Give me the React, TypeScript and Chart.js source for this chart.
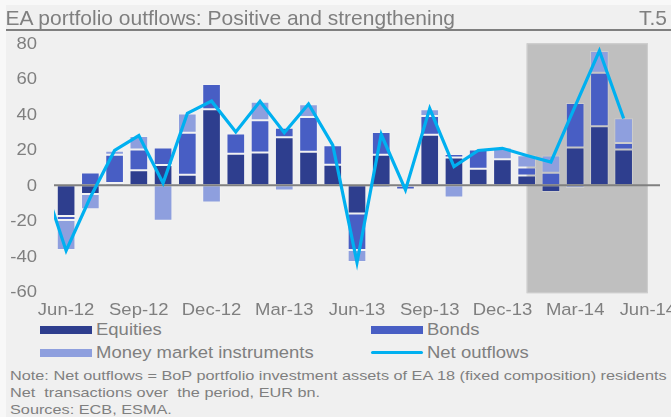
import React, { useEffect, useRef } from 'react';
import { Chart, registerables } from 'chart.js';

Chart.register(...registerables);

// ---------- data ----------
const MONTHS = [
  'Jun-12', 'Jul-12', 'Aug-12', 'Sep-12', 'Oct-12', 'Nov-12', 'Dec-12',
  'Jan-13', 'Feb-13', 'Mar-13', 'Apr-13', 'May-13', 'Jun-13', 'Jul-13',
  'Aug-13', 'Sep-13', 'Oct-13', 'Nov-13', 'Dec-13', 'Jan-14', 'Feb-14',
  'Mar-14', 'Apr-14', 'May-14', 'Jun-14',
];
const EQUITIES = [-17.4, -5.0, 1.2, 8.4, 11.4, 5.9, 42.8, 17.8, 18.5, 27.0, 18.9, 11.6, -15.9, 17.2, -0.3, 28.4, 15.7, 9.3, 14.6, 5.5, -3.8, 21.3, 33.2, 20.2];
const BONDS = [-2.2, 7.2, 16.0, 11.8, 9.9, 23.7, 14.2, 11.4, 18.2, 5.4, 19.6, 11.0, -20.6, 12.8, -2.1, 10.6, 1.9, 10.9, -0.8, 4.5, 7.0, 25.0, 30.2, 3.6];
const MONEY_MARKET = [-16.9, -8.6, 2.2, 7.5, -20.0, 10.9, -9.7, 0.8, 10.4, -2.9, 7.1, 0.0, -6.8, -1.4, 0.0, 3.9, -6.9, -0.8, 6.7, 6.9, 9.8, -1.6, 12.2, 14.0];
const NET_OUTFLOWS = [-36.9, -6.8, 19.6, 28.0, 1.2, 40.5, 47.4, 30.0, 47.3, 29.6, 45.8, 22.6, -43.5, 28.6, -2.6, 43.2, 10.5, 19.6, 20.8, 16.8, 13.1, 44.6, 75.8, 37.6];
const NET_MAY_12 = 4.5; // preceding month, only partly visible at the left edge
const Y_TICKS = [-60, -40, -20, 0, 20, 40, 60, 80];
const SHADE_FROM = 'Jan-14';
const SHADE_TO = 'Jun-14';

// ---------- style ----------
const BG = '#F0F0F0';
const GREY = '#7F7F7F';
const C_EQ = '#2E3E8E';
const C_BO = '#485EC4';
const C_MM = '#8E9FDE';
const C_NET = '#00B0F0';
const C_SHADE = '#BFBFBF';
const FONT_FAMILY = '"Liberation Sans", Arial, sans-serif';
const TICK_SIZE = 16.3;
const TICK_SX = 1.135;

const shadePlugin = {
  id: 'shade',
  beforeDraw(chart: any) {
    const { ctx, chartArea } = chart;
    const x2 = chart.scales.x2;
    const y = chart.scales.y;
    const a = x2.getPixelForValue(MONTHS.indexOf(SHADE_FROM));
    const b = x2.getPixelForValue(MONTHS.indexOf(SHADE_TO));
    const top = chartArea.top;
    const bottom = y.getPixelForValue(-60) + 1.5;
    ctx.save();
    ctx.fillStyle = C_SHADE;
    ctx.fillRect(a, top, b - a, bottom - top);
    ctx.strokeStyle = '#CFCFCF';
    ctx.lineWidth = 1;
    ctx.strokeRect(a + 0.5, top + 0.5, b - a - 1, bottom - top - 1);
    ctx.restore();
  },
  beforeDatasetDraw(chart: any, args: any) {
    if (args.meta.type !== 'line') return;
    const { ctx, chartArea } = chart;
    const y0 = chart.scales.y.getPixelForValue(0);
    ctx.save();
    ctx.strokeStyle = '#808080';
    ctx.lineWidth = 2;
    ctx.beginPath();
    ctx.moveTo(chartArea.left, y0);
    ctx.lineTo(chartArea.right, y0);
    ctx.stroke();
    ctx.restore();
  },
  afterDraw(chart: any) {
    const { ctx, chartArea } = chart;
    const x2 = chart.scales.x2;
    const y = chart.scales.y;
    ctx.save();
    ctx.font = `${TICK_SIZE}px ${FONT_FAMILY}`;
    ctx.fillStyle = GREY;
    ctx.textBaseline = 'alphabetic';
    ctx.textAlign = 'right';
    for (const v of Y_TICKS) {
      const py = y.getPixelForValue(v);
      ctx.save();
      ctx.translate(chartArea.left - 17, py + 5.4);
      ctx.scale(TICK_SX, 1);
      ctx.fillText(String(v), 0, 0);
      ctx.restore();
    }
    ctx.textAlign = 'center';
    MONTHS.forEach((m, i) => {
      if (i % 3 !== 0) return;
      const px = x2.getPixelForValue(i);
      ctx.save();
      ctx.translate(px, chartArea.bottom + 23.3);
      ctx.scale(TICK_SX, 1);
      ctx.fillText(m, 0, 0);
      ctx.restore();
    });
    ctx.restore();
  },
};

function Txt(props: { left?: number; right?: number; baseline: number; size: number; sx?: number; children: any }) {
  const { left, right, baseline, size, sx = 1, children } = props;
  const top = baseline - 0.8465 * size;
  const style: any = {
    position: 'absolute',
    top,
    fontSize: size,
    lineHeight: `${size}px`,
    whiteSpace: 'pre',
    color: GREY,
    fontFamily: FONT_FAMILY,
    transform: `scaleX(${sx})`,
    transformOrigin: right !== undefined ? '100% 0' : '0 0',
  };
  if (left !== undefined) style.left = left;
  if (right !== undefined) style.right = right;
  return <div style={style}>{children}</div>;
}

function Swatch(props: { left: number; top: number; width: number; height: number; color: string; radius?: number }) {
  const { left, top, width, height, color, radius = 0 } = props;
  return <div style={{ position: 'absolute', left, top, width, height, background: color, borderRadius: radius }} />;
}

export default function App() {
  const ref = useRef<HTMLCanvasElement>(null);

  useEffect(() => {
    const barDs = (label: string, data: number[], color: string) => ({
      type: 'bar' as const,
      label,
      data,
      backgroundColor: color,
      borderColor: 'rgba(255,255,255,0.22)',
      borderWidth: 1,
      borderSkipped: false,
      stack: 'bars',
      grouped: false,
      xAxisID: 'x',
      yAxisID: 'y',
      order: 1,
      barPercentage: 0.77,
      categoryPercentage: 1,
    });
    const lineData = [{ x: -1, y: NET_MAY_12 }, ...NET_OUTFLOWS.map((v, i) => ({ x: i, y: v }))];
    const chart = new Chart(ref.current as HTMLCanvasElement, {
      data: {
        labels: MONTHS,
        datasets: [
          barDs('Equities', EQUITIES, C_EQ),
          barDs('Bonds', BONDS, C_BO),
          barDs('Money market instruments', MONEY_MARKET, C_MM),
          {
            type: 'line' as const,
            label: 'Net outflows',
            data: lineData as any,
            borderColor: C_NET,
            backgroundColor: C_NET,
            borderWidth: 3.2,
            borderJoinStyle: 'miter',
            pointRadius: 0,
            tension: 0,
            fill: false,
            stack: 'line',
            xAxisID: 'x2',
            yAxisID: 'y',
            order: 0,
            clip: { left: 0, right: 0, top: 6, bottom: 6 } as any,
          } as any,
        ],
      },
      options: {
        responsive: false,
        animation: false,
        devicePixelRatio: 1,
        events: [],
        layout: { padding: { left: 54, right: 11, top: 43.3, bottom: 320 - 291.7 } },
        plugins: { legend: { display: false }, tooltip: { enabled: false } },
        scales: {
          x: { type: 'category', display: false, offset: true },
          x2: { type: 'linear', display: false, min: -0.5, max: MONTHS.length - 0.5 },
          y: { type: 'linear', display: false, stacked: true, min: -60, max: 80 },
        },
      } as any,
      plugins: [shadePlugin],
    });
    return () => chart.destroy();
  }, []);

  return (
    <div style={{ position: 'absolute', left: 0, top: 0, width: 671, height: 417, background: BG, overflow: 'hidden', fontFamily: FONT_FAMILY }}>
      <div style={{ position: 'absolute', left: 0, top: 0, width: 671, height: 5, background: '#F8F8F8' }} />
      <div style={{ position: 'absolute', left: 0, top: 0, width: 6, height: 417, background: '#F8F8F8' }} />
      <canvas ref={ref} width={671} height={320} style={{ position: 'absolute', left: 0, top: 0, width: 671, height: 320 }} />
      <Txt left={5.6} baseline={25} size={21}>EA portfolio outflows: Positive and strengthening</Txt>
      <Txt right={4} baseline={25} size={21}>T.5</Txt>
      <div style={{ position: 'absolute', left: 6, top: 28.5, width: 665, height: 2.5, background: GREY }} />

      <Swatch left={40} top={326} width={52} height={7.6} color={C_EQ} />
      <Txt left={96.2} baseline={335} size={TICK_SIZE} sx={TICK_SX}>Equities</Txt>
      <Swatch left={371} top={326} width={52} height={7.6} color={C_BO} />
      <Txt left={426.6} baseline={335} size={TICK_SIZE} sx={TICK_SX}>Bonds</Txt>
      <Swatch left={40} top={348.5} width={52} height={8} color={C_MM} />
      <Txt left={96.3} baseline={357.5} size={TICK_SIZE} sx={TICK_SX}>Money market instruments</Txt>
      <Swatch left={371} top={351} width={52} height={3} color={C_NET} radius={1.5} />
      <Txt left={426.6} baseline={357.5} size={TICK_SIZE} sx={TICK_SX}>Net outflows</Txt>

      <Txt left={9.5} baseline={380.7} size={13.5} sx={1.205}>Note: Net outflows = BoP portfolio investment assets of EA 18 (fixed composition) residents</Txt>
      <Txt left={9.5} baseline={397.3} size={13.5} sx={1.205}>{'Net  transactions over  the period, EUR bn.'}</Txt>
      <Txt left={9.5} baseline={414} size={13.5} sx={1.205}>Sources: ECB, ESMA.</Txt>
    </div>
  );
}
